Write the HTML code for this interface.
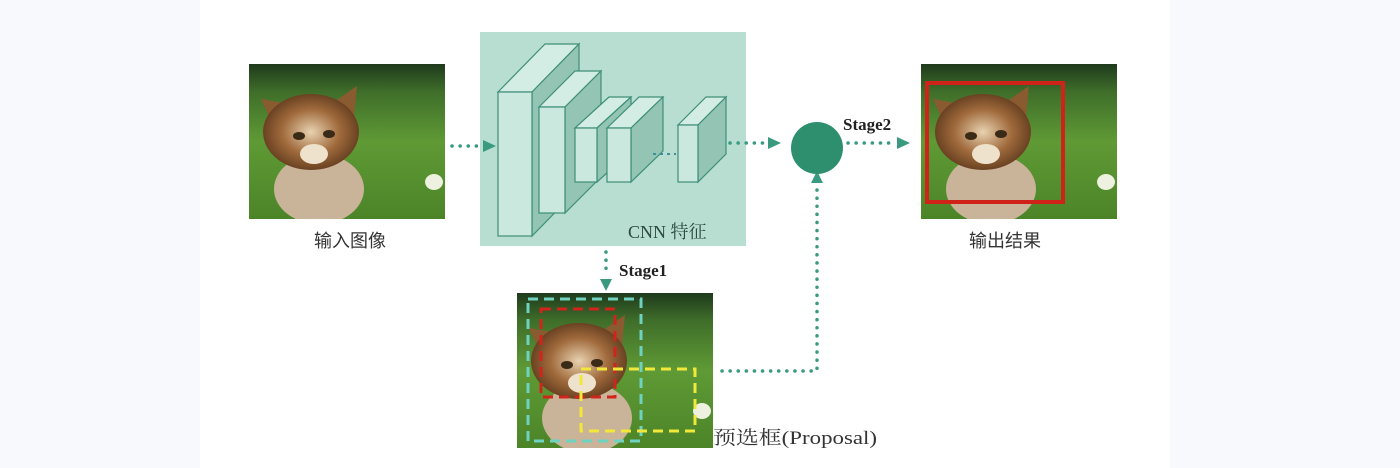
<!DOCTYPE html>
<html><head><meta charset="utf-8"><style>
html,body{margin:0;padding:0;background:#fff}
svg{display:block}
</style></head><body>
<svg width="1400" height="468" viewBox="0 0 1400 468" xmlns="http://www.w3.org/2000/svg">
<defs>
<linearGradient id="grass" x1="0" y1="0" x2="0" y2="1">
<stop offset="0" stop-color="#1f3a1c"/><stop offset="0.18" stop-color="#3f6e2a"/><stop offset="0.5" stop-color="#5f9a35"/><stop offset="1" stop-color="#4c8428"/></linearGradient>
<radialGradient id="head" cx="0.5" cy="0.5" r="0.5"><stop offset="0" stop-color="#e8d2b0"/><stop offset="0.6" stop-color="#a06a3c"/><stop offset="1" stop-color="#6a4222"/></radialGradient>
<symbol id="cat" viewBox="0 0 196 155">
<rect width="196" height="155" fill="url(#grass)"/>
<ellipse cx="70" cy="125" rx="45" ry="35" fill="#c9b49a"/>
<polygon points="12,35 40,40 28,70" fill="#8a5a30"/>
<polygon points="108,22 82,40 104,62" fill="#8a5a30"/>
<ellipse cx="62" cy="68" rx="48" ry="38" fill="url(#head)"/>
<ellipse cx="50" cy="72" rx="6" ry="4" fill="#3a2a18"/>
<ellipse cx="80" cy="70" rx="6" ry="4" fill="#3a2a18"/>
<ellipse cx="65" cy="90" rx="14" ry="10" fill="#efe2cc"/>
<ellipse cx="185" cy="118" rx="9" ry="8" fill="#eef0e0"/>
</symbol>
</defs>
<rect x="0" y="0" width="200" height="468" fill="#f8f9fc"/>
<rect x="1170" y="0" width="230" height="468" fill="#f8f9fc"/>

<use href="#cat" x="249" y="64" width="196" height="155"/>
<text x="350" y="247" font-family="'Liberation Sans','Noto Sans CJK SC',sans-serif" font-size="18" fill="#333" text-anchor="middle">输入图像</text>

<rect x="480" y="32" width="266" height="214" fill="#b7ded1"/>
<g stroke="#3f8f77" stroke-width="1.2">
<polygon points="498,92 545,44 579,44 532,92" fill="#d3ece4"/>
<polygon points="532,92 579,44 579,188 532,236" fill="#93c4b4"/>
<rect x="498" y="92" width="34" height="144" fill="#cbe8de"/>
<polygon points="539,107 575,71 601,71 565,107" fill="#d3ece4"/>
<polygon points="565,107 601,71 601,177 565,213" fill="#93c4b4"/>
<rect x="539" y="107" width="26" height="106" fill="#cbe8de"/>
<polygon points="575,128 609,97 631,97 597,128" fill="#d3ece4"/>
<polygon points="597,128 631,97 631,151 597,182" fill="#93c4b4"/>
<rect x="575" y="128" width="22" height="54" fill="#cbe8de"/>
<polygon points="607,128 639,97 663,97 631,128" fill="#d3ece4"/>
<polygon points="631,128 663,97 663,151 631,182" fill="#93c4b4"/>
<rect x="607" y="128" width="24" height="54" fill="#cbe8de"/>
<polygon points="678,125 706,97 726,97 698,125" fill="#d3ece4"/>
<polygon points="698,125 726,97 726,154 698,182" fill="#93c4b4"/>
<rect x="678" y="125" width="20" height="57" fill="#cbe8de"/>
</g>
<line x1="653" y1="154" x2="676" y2="154" stroke="#3f8f9a" stroke-width="2" stroke-dasharray="3,4"/>
<text x="628" y="238" font-family="'Liberation Serif','Noto Serif CJK SC',serif" font-size="18" fill="#2c4a40">CNN 特征</text>

<g stroke="#3a9a80" stroke-width="3.5" stroke-dasharray="0.1,8" stroke-linecap="round" fill="none">
<line x1="452" y1="146" x2="481" y2="146"/>
<line x1="730" y1="143" x2="766" y2="143"/>
<line x1="848" y1="143" x2="894" y2="143"/>
<line x1="817" y1="190" x2="817" y2="371"/>
<line x1="722" y1="371" x2="817" y2="371"/>
<line x1="606" y1="252" x2="606" y2="276"/>
</g>
<g fill="#3a9a80">
<polygon points="483,140 496,146 483,152"/>
<polygon points="768,137 781,143 768,149"/>
<polygon points="897,137 910,143 897,149"/>
<polygon points="811,183 817,171 823,183"/>
<polygon points="600,279 612,279 606,291"/>
</g>
<circle cx="817" cy="148" r="26" fill="#2e8f6f"/>
<text x="843" y="130" font-family="'Liberation Serif',serif" font-weight="bold" font-size="17" fill="#222">Stage2</text>
<text x="619" y="276" font-family="'Liberation Serif',serif" font-weight="bold" font-size="17" fill="#222">Stage1</text>

<use href="#cat" x="921" y="64" width="196" height="155"/>
<rect x="927" y="83" width="136" height="119" fill="none" stroke="#cf2219" stroke-width="4"/>
<text x="1005" y="247" font-family="'Liberation Sans','Noto Sans CJK SC',sans-serif" font-size="18" fill="#333" text-anchor="middle">输出结果</text>

<use href="#cat" x="517" y="293" width="196" height="155"/>
<rect x="528" y="299" width="113" height="142" fill="none" stroke="#6fd2c0" stroke-width="3" stroke-dasharray="10,6"/>
<rect x="541" y="309" width="74" height="88" fill="none" stroke="#d0241c" stroke-width="3" stroke-dasharray="10,6"/>
<rect x="581" y="369" width="114" height="62" fill="none" stroke="#f2e83a" stroke-width="3" stroke-dasharray="10,6"/>
<text x="713" y="444" font-family="'Liberation Serif','Noto Serif CJK SC',serif" font-size="19" fill="#333" textLength="164" lengthAdjust="spacingAndGlyphs">预选框(Proposal)</text>
</svg>
</body></html>
